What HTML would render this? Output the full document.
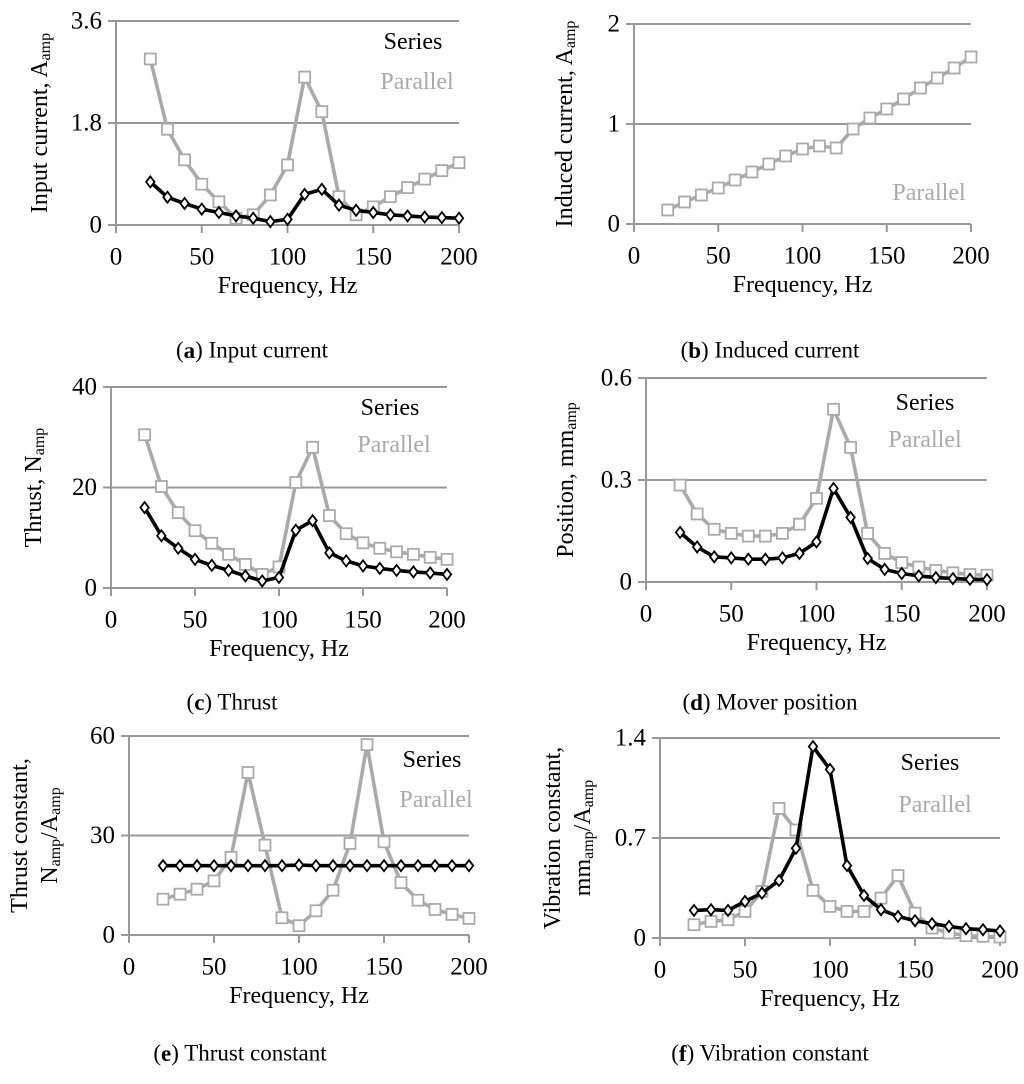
<!DOCTYPE html>
<html><head><meta charset="utf-8"><title>Frequency response charts</title>
<style>
body{margin:0;background:#fff}
svg{display:block;font-family:"Liberation Serif",serif}
</style></head>
<body>
<svg id="fig" width="1024" height="1084" viewBox="0 0 1024 1084" xmlns="http://www.w3.org/2000/svg"></svg>
<script>
const freqs = [20,30,40,50,60,70,80,90,100,110,120,130,140,150,160,170,180,190,200];
const xTicks = [0,50,100,150,200];
const aParallel = [2.93,1.69,1.15,0.72,0.41,0.12,0.18,0.53,1.06,2.61,2.0,0.5,0.18,0.32,0.5,0.66,0.81,0.96,1.1];
const aSeries = [0.76,0.49,0.38,0.28,0.22,0.16,0.12,0.06,0.1,0.54,0.63,0.35,0.26,0.22,0.18,0.16,0.14,0.13,0.12];
const aTicks = ["0","1.8","3.6"];
const bParallel = [0.14,0.22,0.29,0.36,0.44,0.52,0.6,0.68,0.75,0.78,0.76,0.95,1.06,1.15,1.25,1.36,1.46,1.56,1.67];
const bTicks = ["0","1","2"];
const cParallel = [30.5,20.2,15,11.4,8.9,6.7,4.7,2.7,4.2,21,28,14.4,10.8,9,7.9,7.2,6.7,6.1,5.7];
const cSeries = [16,10.4,7.9,5.7,4.5,3.5,2.4,1.4,2.1,11.5,13.4,7,5.4,4.4,3.9,3.5,3.2,3,2.7];
const cTicks = ["0","20","40"];
const dParallel = [0.285,0.2,0.155,0.143,0.135,0.135,0.143,0.17,0.246,0.508,0.396,0.143,0.084,0.057,0.044,0.034,0.027,0.022,0.02];
const dSeries = [0.146,0.103,0.074,0.071,0.067,0.067,0.071,0.084,0.118,0.275,0.19,0.069,0.037,0.025,0.018,0.013,0.01,0.008,0.007];
const dTicks = ["0","0.3","0.6"];
const eParallel = [10.8,12.3,13.8,16.3,23.4,49,27.1,5.2,2.8,7.3,13.5,27.6,57.4,28.1,15.8,10.5,7.7,6.2,5];
const eSeries = [20.9,20.9,20.9,20.9,20.9,20.9,20.9,20.9,21.1,20.9,20.9,20.9,20.9,20.9,20.9,20.9,20.9,20.9,20.9];
const eTicks = ["0","30","60"];
const fParallel = [0.093,0.116,0.128,0.186,0.326,0.907,0.756,0.333,0.221,0.186,0.186,0.279,0.437,0.174,0.07,0.035,0.016,0.012,0.007];
const fSeries = [0.193,0.198,0.193,0.256,0.314,0.402,0.628,1.34,1.18,0.507,0.298,0.198,0.151,0.121,0.1,0.081,0.065,0.058,0.049];
const fTicks = ["0","0.7","1.4"];

const NS = "http://www.w3.org/2000/svg";
const fig = document.getElementById('fig');
function mk(tag, attrs, parent){
  const e = document.createElementNS(NS, tag);
  for (const k in attrs) e.setAttribute(k, attrs[k]);
  (parent||fig).appendChild(e);
  return e;
}
function txt(parent, x, y, s, size, fill, anchor){
  const t = mk('text', {x:x, y:y, 'font-size':size, fill:fill||'#000', 'text-anchor':anchor||'middle', 'dominant-baseline':'central'}, parent);
  t.textContent = s;
  return t;
}

function panel(p){
  const g = mk('g', {});
  
  
  const ymax = parseFloat(p.yTicks[p.yTicks.length-1]);
  const X = v => p.x0 + (v/200)*(p.x1-p.x0);
  const Y = v => p.y0 - (v/ymax)*(p.y0-p.y1);
  p.yTicks.forEach((t,i)=>{
    const v = parseFloat(t);
    const gl = mk('line', {x1:p.x0-8, x2:p.x1, y1:Y(v), y2:Y(v), stroke:'#999', 'stroke-width':2}, g);
    
    
    const lb = txt(g, p.x0-14, Y(v), t, 25, '#000', 'end');
    
    
  });
  const ax = mk('line', {x1:p.x0, x2:p.x0, y1:p.y1, y2:p.y0+8, stroke:'#999', 'stroke-width':2}, g);
  
  
  xTicks.forEach(t=>{
    const tk = mk('line', {x1:X(t), x2:X(t), y1:p.y0, y2:p.y0+8, stroke:'#999', 'stroke-width':2}, g);
    
    
    const lb = txt(g, X(t), p.y0+32, String(t), 25);
    
    
  });
  const xt = txt(g, (p.x0+p.x1)/2, p.y0+61, 'Frequency, Hz', 24);
  
  
  const cy = (p.y0+p.y1)/2;
  p.yTitle.forEach((line, i)=>{
    const t = mk('text', {x:0, y:0, 'font-size':24, 'text-anchor':'middle', 'dominant-baseline':'central', transform:`translate(${line.x},${cy}) rotate(-90)`}, g);
    
    
    t.innerHTML = line.html;
  });
  function drawSeries(vals, color, marker, nm){
    const sg = mk('g', {}, g);
    
    
    const pts = vals.map((v,i)=>X(freqs[i]).toFixed(1)+','+Y(v).toFixed(1)).join(' ');
    const pl = mk('polyline', {points:pts, fill:'none', stroke:color, 'stroke-width':3.6, 'stroke-linejoin':'round'}, sg);
    
    
    vals.forEach((v,i)=>{
      const x = X(freqs[i]), y = Y(v);
      let m;
      if (marker==='square') m = mk('rect', {x:x-5.5, y:y-5.5, width:11, height:11, fill:'#fff', stroke:color, 'stroke-width':1.8}, sg);
      else m = mk('polygon', {points:`${x},${y-5.5} ${x+4.2},${y} ${x},${y+5.5} ${x-4.2},${y}`, fill:'#fff', stroke:color, 'stroke-width':1.8}, sg);
      
      
    });
  }
  if (p.parallel) drawSeries(p.parallel, '#aaa', 'square', 'parallel-series');
  if (p.series) drawSeries(p.series, '#000', 'diamond', 'series-series');
  if (p.legS){
    const l = txt(g, p.legS[0], p.legS[1], 'Series', 24, '#000');
    
    
  }
  if (p.legP){
    const l = txt(g, p.legP[0], p.legP[1], 'Parallel', 24, '#aaa');
    
    
  }
  const c = mk('text', {x:p.cap[0], y:p.cap[1], 'font-size':23, 'text-anchor':'middle', 'dominant-baseline':'central'}, g);
  
  
  c.innerHTML = `(<tspan font-weight="bold">${p.letter}</tspan>) ${p.capText}`;
}

const sub = s => `<tspan font-size="16" dy="5">${s}</tspan>`;
panel({name:'chart-input-current', x0:116, x1:459, y0:225, y1:21, yTicks:aTicks, parallel:aParallel, series:aSeries,
  yTitle:[{x:40, html:`Input current, A${sub('amp')}`}], legS:[413,42], legP:[417,82], cap:[252,350], letter:'a', capText:'Input current'});
panel({name:'chart-induced-current', x0:634, x1:971, y0:224, y1:24, yTicks:bTicks, parallel:bParallel,
  yTitle:[{x:565, html:`Induced current, A${sub('amp')}`}], legP:[929,193], cap:[770,350], letter:'b', capText:'Induced current'});
panel({name:'chart-thrust', x0:111, x1:447, y0:588, y1:387, yTicks:cTicks, parallel:cParallel, series:cSeries,
  yTitle:[{x:34, html:`Thrust, N${sub('amp')}`}], legS:[390,408], legP:[394,445], cap:[232,702], letter:'c', capText:'Thrust'});
panel({name:'chart-mover-position', x0:646, x1:987, y0:582, y1:378, yTicks:dTicks, parallel:dParallel, series:dSeries,
  yTitle:[{x:566, html:`Position, mm${sub('amp')}`}], legS:[925,403], legP:[925,440], cap:[770,702], letter:'d', capText:'Mover position'});
panel({name:'chart-thrust-constant', x0:129, x1:469, y0:935, y1:736, yTicks:eTicks, parallel:eParallel, series:eSeries,
  yTitle:[{x:20, html:`Thrust constant,`},{x:50, html:`N${sub('amp')}<tspan dy="-5">/A</tspan>${sub('amp')}`}], legS:[432,760], legP:[436,800], cap:[240,1053], letter:'e', capText:'Thrust constant'});
panel({name:'chart-vibration-constant', x0:660, x1:1000, y0:938, y1:738, yTicks:fTicks, parallel:fParallel, series:fSeries,
  yTitle:[{x:553, html:`Vibration constant,`},{x:583, html:`mm${sub('amp')}<tspan dy="-5">/A</tspan>${sub('amp')}`}], legS:[930,763], legP:[935,805], cap:[770,1053], letter:'f', capText:'Vibration constant'});
</script>
</body></html>
